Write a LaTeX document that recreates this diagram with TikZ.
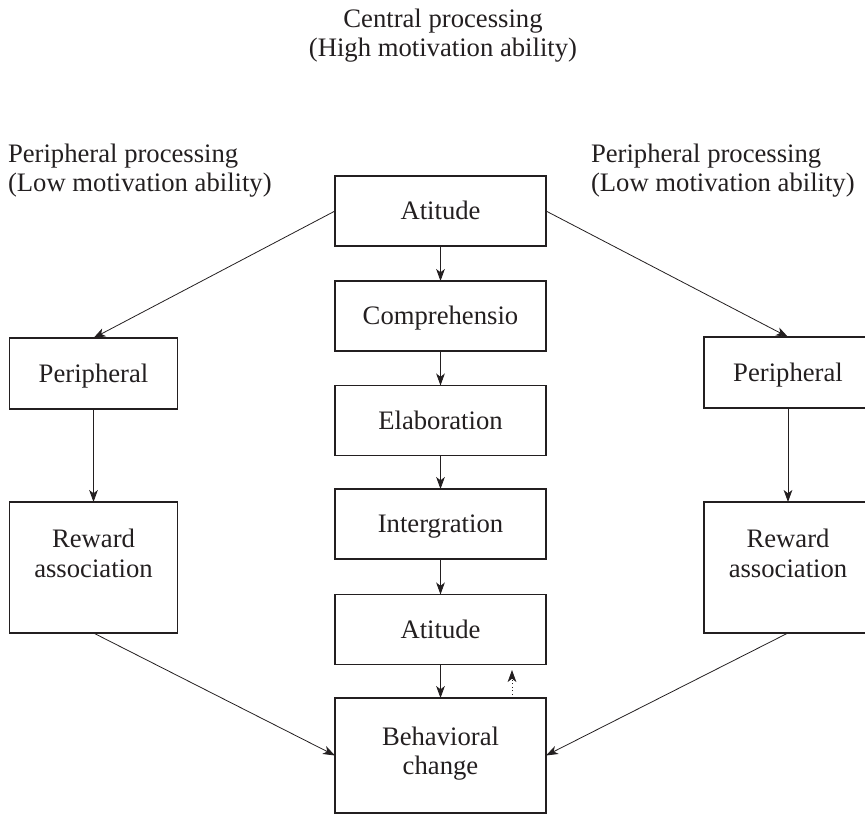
\documentclass[tikz,border=0pt]{standalone}
\usepackage{fontspec}
\setmainfont{Liberation Serif}
\usetikzlibrary{arrows.meta,calc}
\definecolor{ink}{HTML}{231F20}
\begin{document}
\begin{tikzpicture}[x=0.75pt,y=-0.75pt,
  txt/.style={text=ink,font=\fontsize{20}{23}\selectfont,inner sep=0pt,outer sep=0pt},
  box/.style={txt,draw=ink,line width=1.3pt,text height=13.2pt,text depth=0pt},
  midbox/.style={box,minimum width=158.25pt,minimum height=52.5pt},
  sidebox/.style={box,minimum width=126pt},
  conn/.style={draw=ink,line width=0.6pt,-{Stealth[length=9pt,width=6.5pt,inset=2.5pt]}}]
\useasboundingbox (0,0) rectangle (865,816);

% headings
\node[txt,anchor=base] (cTitle) at (443,28) {Central processing};
\node[txt,anchor=base] (cSub) at (443,57) {(High motivation ability)};
\node[txt,anchor=base west] (lTitle) at (8,163) {Peripheral processing};
\node[txt,anchor=base west] (lSub) at (8,192) {(Low motivation ability)};
\node[txt,anchor=base west] (rTitle) at (591,163) {Peripheral processing};
\node[txt,anchor=base west] (rSub) at (591,192) {(Low motivation ability)};

% central route
\node[midbox] (at1) at (440.5,211) {Atitude};
\node[midbox] (comp) at (440.5,316) {Comprehensio};
\node[midbox] (elab) at (440.5,420.5) {Elaboration};
\node[midbox] (intg) at (440.5,524) {Intergration};
\node[midbox] (at2) at (440.5,629.5) {Atitude};
\node[box,minimum width=158.25pt,minimum height=86.25pt] (beh) at (440.5,755.5) {};
\node[txt,anchor=base] (behA) at (440.5,745.5) {Behavioral};
\node[txt,anchor=base] (behB) at (440.5,774) {change};

% peripheral routes
\node[sidebox,minimum height=53.25pt] (perL) at (93.5,373.5) {Peripheral};
\node[sidebox,minimum height=98.25pt] (rwL) at (93.5,567.5) {};
\node[txt,anchor=base] (rwLa) at (93.5,548) {Reward};
\node[txt,anchor=base] (rwLb) at (93.5,578) {association};

\node[sidebox,minimum height=53.25pt] (perR) at (788,372.5) {Peripheral};
\node[sidebox,minimum height=98.25pt] (rwR) at (788,567.5) {};
\node[txt,anchor=base] (rwRa) at (788,548) {Reward};
\node[txt,anchor=base] (rwRb) at (788,578) {association};

% connectors
\draw[conn] (at1) -- (comp);
\draw[conn] (comp) -- (elab);
\draw[conn] (elab) -- (intg);
\draw[conn] (intg) -- (at2);
\draw[conn] (at2) -- (beh);
\coordinate (fbFrom) at (512,698);
\coordinate (fbTo) at (512,670);
\draw[conn,dotted] (fbFrom) -- (fbTo);

\draw[conn] (at1.west) -- (perL.north);
\draw[conn] (at1.east) -- (perR.north);
\draw[conn] (perL) -- (rwL);
\draw[conn] (perR) -- (rwR);
\draw[conn] (rwL.south) -- (beh.west);
\draw[conn] (rwR.south) -- (beh.east);
\end{tikzpicture}
\end{document}
